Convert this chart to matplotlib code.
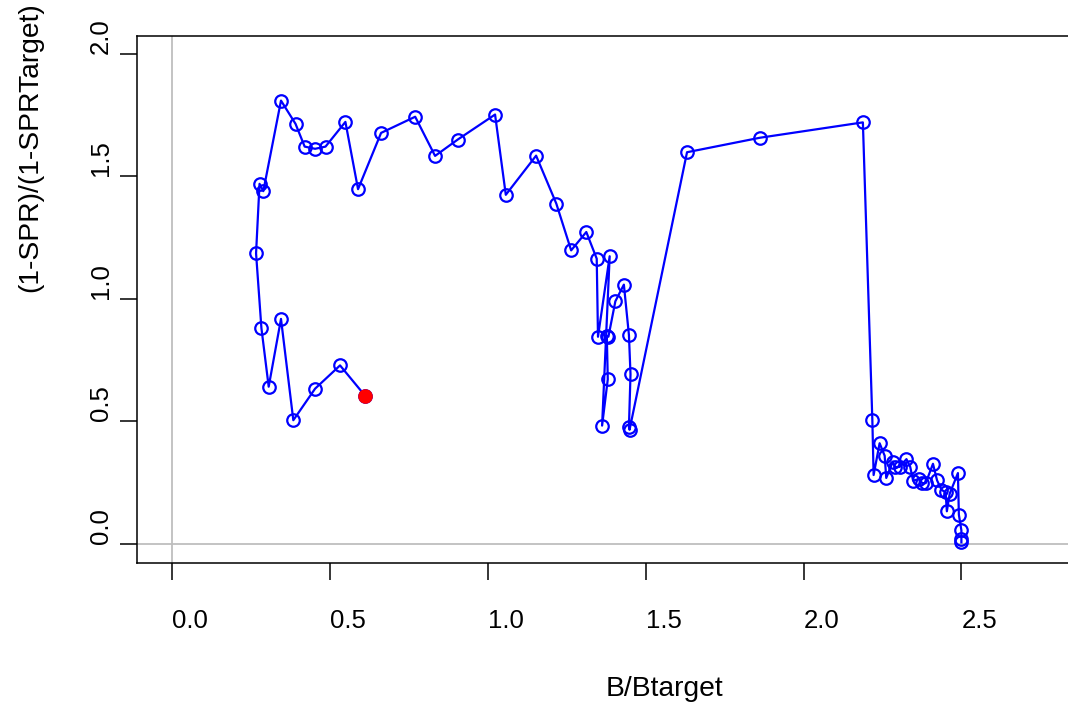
import matplotlib
matplotlib.use("Agg")
import matplotlib.pyplot as plt

# B/Btarget, time order (start at bottom right, end at red point)
b_ratio = [2.500, 2.500, 2.500, 2.492, 2.489, 2.463, 2.454, 2.450, 2.437, 2.423,
           2.410, 2.387, 2.376, 2.366, 2.347, 2.338, 2.326, 2.304, 2.289, 2.283,
           2.262, 2.257, 2.241, 2.222, 2.218, 2.188, 1.861, 1.631, 1.449, 1.447,
           1.452, 1.447, 1.431, 1.404, 1.382, 1.377, 1.380, 1.362, 1.386, 1.349,
           1.345, 1.312, 1.264, 1.217, 1.153, 1.057, 1.023, 0.905, 0.833, 0.770,
           0.662, 0.589, 0.549, 0.486, 0.453, 0.420, 0.391, 0.345, 0.289, 0.277,
           0.266, 0.283, 0.306, 0.345, 0.384, 0.453, 0.532, 0.612]
# (1-SPR)/(1-SPRtarget)
spr_ratio = [0.005, 0.019, 0.054, 0.118, 0.288, 0.204, 0.132, 0.209, 0.220, 0.258,
             0.326, 0.247, 0.247, 0.264, 0.257, 0.313, 0.345, 0.313, 0.313, 0.335,
             0.268, 0.359, 0.410, 0.280, 0.503, 1.721, 1.658, 1.599, 0.465, 0.477,
             0.692, 0.852, 1.058, 0.990, 0.845, 0.848, 0.671, 0.482, 1.174, 0.845,
             1.164, 1.273, 1.198, 1.389, 1.585, 1.425, 1.753, 1.651, 1.584, 1.744,
             1.678, 1.448, 1.723, 1.622, 1.613, 1.622, 1.715, 1.810, 1.440, 1.470,
             1.186, 0.880, 0.641, 0.918, 0.504, 0.633, 0.728, 0.603]

x_ticks = [0.0, 0.5, 1.0, 1.5, 2.0, 2.5]
y_ticks = [0.0, 0.5, 1.0, 1.5, 2.0]

plt.rcParams['font.family'] = ['Liberation Sans', 'DejaVu Sans']
plt.rcParams['font.size'] = 18.5

fig = plt.figure(figsize=(10.68, 7.09), dpi=100)
ax = fig.add_axes([0.1286, 0.2064, 0.878, 0.7432])

ax.axvline(0, color='#bebebe', lw=1.3, zorder=1)
ax.axhline(0, color='#bebebe', lw=1.3, zorder=1)

ax.plot(b_ratio, spr_ratio, color='blue', lw=1.6, marker='o', markersize=9,
        markerfacecolor='none', markeredgecolor='blue', markeredgewidth=1.6, zorder=2)
ax.plot(b_ratio[-1], spr_ratio[-1], 'o', color='red', markersize=9.5, zorder=3)

ax.set_xlim(-0.11, 2.86)
ax.set_ylim(-0.078, 2.075)

for s in ax.spines.values():
    s.set_linewidth(1.1)
ax.spines['right'].set_visible(False)

ax.set_xticks(x_ticks)
ax.set_xticklabels([f"{v:.1f}" for v in x_ticks], ha='left')
ax.set_yticks(y_ticks)
ax.set_yticklabels([f"{v:.1f}" for v in y_ticks])
ax.tick_params(axis='both', direction='out', length=12.2, width=1.1, colors='black')
ax.tick_params(axis='x', pad=21)
ax.tick_params(axis='y', pad=14)
for lab in ax.get_yticklabels():
    lab.set(rotation=90, rotation_mode='anchor', ha='left', va='center')

fig.text(606 / 1068, 1 - 689 / 709, "B/Btarget", ha='left', va='center', fontsize=20.3)
fig.text(30 / 1068, 1 - 292 / 709, "(1-SPR)/(1-SPRTarget)", rotation=90,
         rotation_mode='anchor', ha='left', va='center', fontsize=20.3)

fig.savefig("out.png", dpi=100)
